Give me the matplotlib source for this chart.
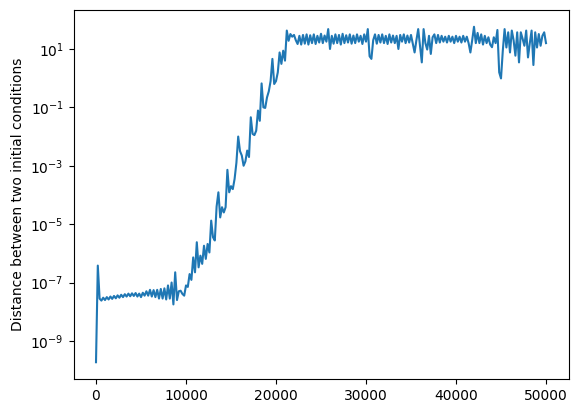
import numpy as np
import matplotlib
matplotlib.use('Agg')
import matplotlib.pyplot as plt

# pas d'integration (un point tous les 200 pas)
steps = np.arange(0, 50001, 200)

# log10 de la distance (10 valeurs par ligne)
log_dist = [
    -9.73, -6.42, -7.55, -7.62, -7.52, -7.6, -7.5, -7.58, -7.48, -7.56,    # 0
    -7.46, -7.54, -7.44, -7.52, -7.42, -7.5, -7.4, -7.48, -7.38, -7.47,    # 2000
    -7.37, -7.46, -7.36, -7.48, -7.38, -7.5, -7.35, -7.45, -7.3, -7.45,    # 4000
    -7.25, -7.48, -7.26, -7.5, -7.25, -7.55, -7.22, -7.55, -7.2, -7.58,    # 6000
    -7.1, -7.55, -7.0, -7.75, -6.65, -7.6, -7.3, -7.28, -7.39, -7.45,      # 8000
    -7.1, -7.15, -6.71, -6.91, -6.14, -6.65, -5.62, -6.48, -6.08, -6.36,   # 10000
    -5.74, -6.19, -5.68, -5.97, -4.88, -5.45, -5.56, -4.4, -3.91, -4.77,   # 12000
    -4.42, -4.6, -4.42, -3.14, -3.91, -3.7, -3.8, -3.45, -2.9, -2.0,       # 14000
    -2.5, -2.65, -3.0, -2.85, -2.48, -2.7, -1.34, -1.91, -1.95, -1.8,      # 16000
    -1.11, -1.46, -0.18, -1.0, -1.02, -0.66, -0.45, -0.1, 0.66, -0.2,      # 18000
    -0.1, 0.2, 0.88, 0.49, 0.94, 0.6, 1.63, 1.28, 1.51, 1.42,              # 20000
    1.48, 1.3, 1.17, 1.45, 1.15, 1.48, 1.18, 1.5, 1.15, 1.47,              # 22000
    1.2, 1.5, 1.17, 1.45, 1.22, 1.52, 1.2, 1.46, 1.25, 1.68,               # 24000
    1.0, 1.45, 1.18, 1.5, 1.2, 1.48, 1.15, 1.52, 1.2, 1.47,                # 26000
    1.22, 1.5, 1.18, 1.46, 1.2, 1.5, 1.25, 1.45, 1.17, 1.5,                # 28000
    1.25, 1.68, 0.75, 0.66, 1.3, 1.5, 1.18, 1.48, 1.22, 1.5,               # 30000
    1.2, 1.45, 1.17, 1.5, 1.22, 1.46, 1.2, 1.45, 1.0, 1.48,                # 32000
    1.25, 1.5, 1.2, 1.46, 1.22, 1.48, 1.18, 0.88, 1.3, 1.68,               # 34000
    1.1, 0.54, 1.68, 1.2, 0.98, 1.45, 0.83, 1.4, 1.5, 1.2,                 # 36000
    1.48, 1.22, 1.45, 1.25, 1.42, 1.22, 1.45, 1.25, 1.42, 1.2,             # 38000
    1.45, 1.25, 1.42, 1.22, 1.45, 1.25, 1.42, 1.2, 0.88, 1.3,              # 40000
    1.76, 1.2, 1.55, 1.2, 1.5, 1.15, 1.45, 1.2, 1.4, 1.15,                 # 42000
    1.06, 1.4, 1.2, 1.65, 0.2, -0.01, 0.94, 1.68, 1.05, 1.57,              # 44000
    0.88, 1.63, 1.3, 0.77, 1.57, 0.54, 1.57, 1.35, 1.11, 1.63,             # 46000
    0.71, 1.2, 1.63, 0.45, 1.57, 1.05, 1.51, 1.11, 1.45, 1.57,             # 48000
    1.2,                                                                   # 50000
]
distance = 10.0 ** np.array(log_dist)

fig = plt.figure(figsize=(5.78, 4.13), dpi=100)
ax = fig.add_axes([73.5/578, 34/413, 495/578, 369/413])
ax.plot(steps, distance)
ax.set_yscale('log')
ax.set_ylabel('Distance between two initial conditions')

fig.savefig('out.png', dpi=100)
